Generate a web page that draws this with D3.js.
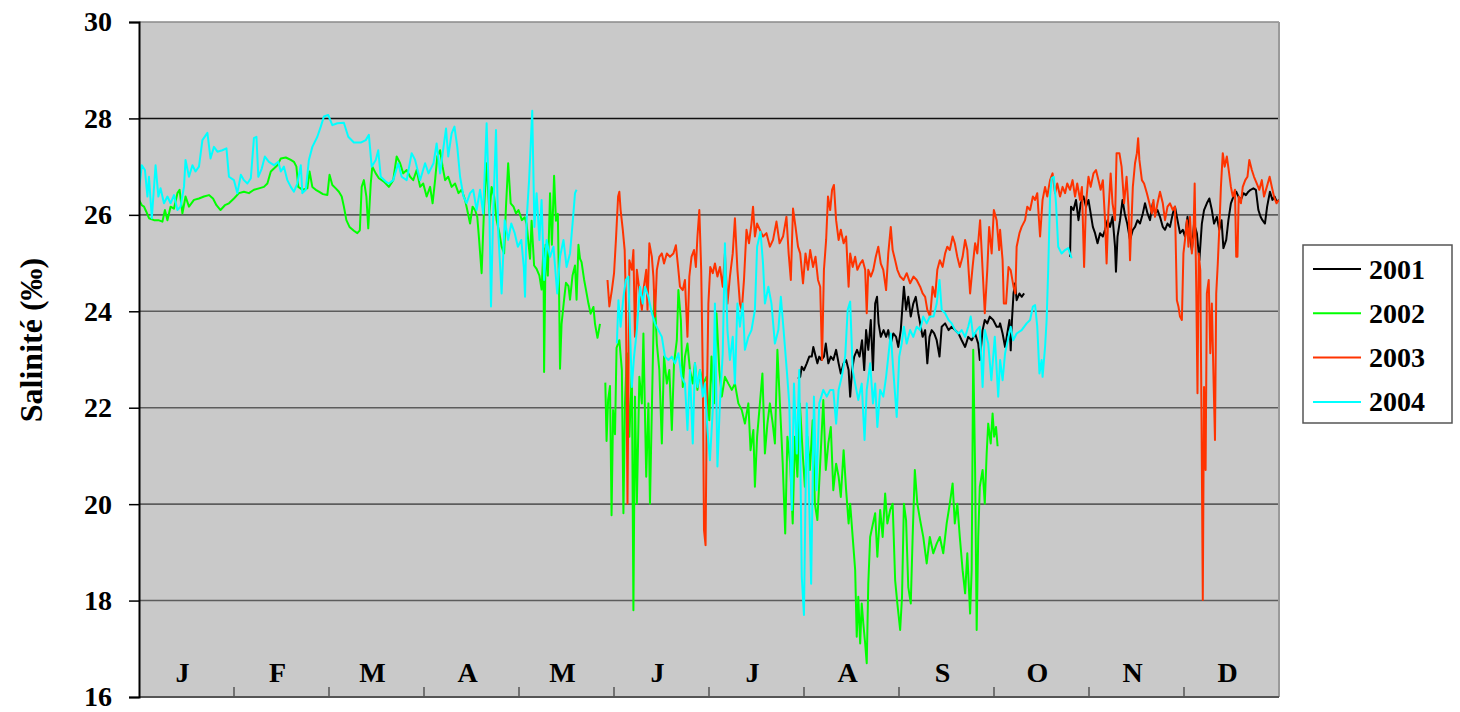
<!DOCTYPE html>
<html>
<head>
<meta charset="utf-8">
<script src="https://cdn.jsdelivr.net/npm/d3@7"></script>
<style>
  html, body { margin: 0; padding: 0; background: #ffffff; }
  svg { display: block; }
  text { font-family: "Liberation Serif", "Times New Roman", serif; font-weight: bold; fill: #000; }
</style>
</head>
<body>
<svg id="chart" width="1460" height="712"></svg>
<script>
// ---------- DATA (day of year, salinity ‰) ----------
const months = ["J", "F", "M", "A", "M", "J", "J", "A", "S", "O", "N", "D"];
const yTicks = [16, 18, 20, 22, 24, 26, 28, 30];
const years = ["2001", "2002", "2003", "2004"];
const colors = ["#000000", "#00FF00", "#FF3300", "#00FFFF"];

const s2001 = [[211.0,22.6],[211.7,22.64],[212.2,22.85],[212.9,22.78],[213.8,22.92],[214.6,23.06],[215.4,23.06],[215.9,23.26],[216.4,23.13],[217.2,22.92],[217.8,23.06],[218.5,22.99],[219.3,23.06],[219.9,23.33],[220.7,22.92],[221.5,23.06],[222.3,22.99],[223.2,23.2],[224.0,22.92],[224.7,22.71],[225.6,22.92],[226.4,22.99],[227.2,22.78],[227.7,22.23],[228.3,22.78],[229.0,23.06],[229.9,23.2],[230.7,23.06],[231.5,23.4],[232.2,22.78],[232.8,23.61],[233.5,23.2],[234.3,23.82],[235.0,22.78],[235.7,24.16],[236.3,24.3],[236.8,23.75],[237.5,23.47],[238.4,23.61],[239.2,23.47],[239.9,23.61],[240.7,23.33],[241.5,23.54],[242.4,23.47],[243.1,23.26],[243.9,23.61],[244.5,24.16],[244.9,24.51],[245.6,24.03],[246.3,24.3],[247.1,23.89],[247.9,24.16],[248.7,24.3],[249.5,23.96],[250.3,23.68],[250.9,23.47],[251.7,23.61],[252.4,22.92],[253.1,23.47],[253.8,23.61],[254.6,23.54],[255.4,23.4],[256.3,23.06],[257.0,23.68],[258.1,23.75],[259.2,23.61],[260.2,23.68],[261.3,23.61],[262.4,23.54],[263.4,23.4],[264.5,23.26],[265.5,23.47],[266.6,23.4],[267.7,23.54],[268.7,23.33],[269.2,22.99],[270.1,23.61],[270.8,23.82],[271.6,23.75],[272.4,23.89],[273.5,23.82],[274.6,23.68],[275.4,23.68],[275.7,23.75],[276.5,23.54],[277.3,23.26],[278.0,23.54],[278.7,23.82],[279.1,23.19],[279.5,23.82],[280.0,24.37],[280.5,24.58],[281.0,24.23],[281.9,24.37],[282.6,24.3],[283.4,24.37],[284.0,null],[298.1,25.13],[298.4,26.17],[299.2,26.1],[300.0,26.31],[300.8,25.89],[301.5,26.24],[302.4,26.38],[303.2,26.17],[304.0,26.31],[304.7,26.03],[305.4,25.75],[306.1,25.62],[306.9,25.41],[307.7,25.62],[308.6,25.55],[309.3,25.69],[310.1,25.89],[310.9,25.75],[311.7,25.96],[312.5,25.34],[312.8,24.82],[313.3,25.55],[314.1,25.89],[314.9,26.31],[315.6,26.03],[316.4,25.82],[317.3,25.48],[318.2,25.69],[318.9,25.75],[319.7,25.89],[320.5,25.82],[321.4,26.03],[322.1,26.24],[322.9,26.03],[323.7,25.89],[324.6,26.24],[325.3,26.03],[326.1,26.1],[326.9,25.96],[327.8,25.75],[328.5,25.69],[329.3,25.82],[330.1,25.75],[331.0,26.03],[331.7,26.17],[332.5,25.89],[333.3,25.62],[334.2,25.69],[334.9,25.55],[335.7,25.96],[336.3,25.62],[337.1,25.27],[337.8,25.82],[338.7,25.62],[339.5,25.06],[340.3,25.82],[341.0,26.1],[341.9,26.24],[342.7,26.34],[343.5,26.1],[344.2,25.82],[345.1,25.96],[345.9,25.69],[346.6,25.89],[347.2,25.31],[348.1,25.48],[348.8,25.89],[349.6,26.24],[350.4,26.38],[351.3,26.48],[352.0,26.38],[352.8,26.31],[353.6,26.45],[354.4,26.41],[355.2,26.48],[355.9,26.52],[356.8,26.55],[357.6,26.52],[358.4,26.1],[359.1,25.96],[359.7,25.89],[360.5,25.82],[361.2,26.17],[362.1,26.48],[362.9,26.31],[363.6,26.38],[364.3,26.27],[365.0,26.31]];

const s2002 = [[0,26.31],[0.9,26.2],[1.6,26.17],[2.3,26.07],[3.2,25.93],[4.8,25.89],[6.2,25.89],[7.5,25.86],[8.3,26.1],[9.1,25.89],[10.1,26.17],[11.2,26.13],[12.3,26.45],[13.0,26.52],[13.9,26.03],[14.9,26.38],[16.0,26.17],[17.6,26.31],[19.2,26.34],[20.8,26.38],[22.4,26.41],[23.7,26.34],[24.8,26.2],[26.1,26.1],[27.5,26.2],[28.8,26.24],[30.4,26.34],[32.0,26.45],[33.6,26.48],[35.2,26.45],[36.8,26.52],[38.4,26.55],[40.0,26.58],[41.1,26.65],[42.2,26.9],[43.2,26.96],[44.3,27.03],[45.4,27.17],[47.0,27.19],[48.6,27.14],[49.6,27.1],[50.4,27.0],[51.0,26.58],[52.3,26.52],[53.9,26.55],[54.6,26.9],[55.5,26.58],[56.6,26.52],[57.6,26.48],[58.9,26.43],[60.3,26.41],[61.0,26.83],[61.9,26.62],[63.0,26.55],[64.0,26.48],[64.9,26.38],[65.6,26.17],[66.4,25.89],[67.4,25.75],[68.8,25.67],[69.9,25.62],[70.7,25.68],[71.3,26.58],[72.0,26.72],[72.8,26.38],[73.4,25.72],[74.2,26.65],[74.7,27.0],[75.8,26.86],[76.8,26.76],[78.4,26.69],[80.0,26.58],[81.4,26.72],[82.5,27.21],[83.6,27.07],[84.6,26.86],[85.7,26.93],[86.8,26.79],[87.8,26.72],[88.9,26.93],[90.0,26.58],[91.0,26.65],[92.1,26.38],[93.2,26.58],[94.0,26.24],[94.8,26.72],[95.5,27.21],[96.4,27.34],[97.2,27.0],[98.0,26.72],[99.0,26.79],[100.1,26.58],[101.2,26.65],[102.3,26.45],[103.3,26.52],[104.4,26.31],[105.1,26.1],[106.0,25.82],[106.8,26.17],[107.6,26.1],[108.3,25.96],[108.9,25.48],[109.7,24.79],[110.5,26.17],[111.3,27.07],[112.2,26.03],[112.9,26.58],[113.7,26.38],[114.5,25.89],[115.4,25.62],[116.1,25.34],[116.9,25.2],[117.5,26.17],[118.2,27.07],[119.0,26.24],[119.9,26.17],[120.7,26.03],[121.5,26.1],[122.6,25.89],[123.5,25.95],[124.1,25.81],[125.2,25.09],[125.7,25.88],[126.5,24.95],[127.3,24.88],[128.2,24.74],[128.9,24.45],[129.5,25.31],[129.7,22.74],[130.2,25.38],[130.9,24.74],[131.6,26.45],[132.2,25.38],[132.9,26.81],[133.5,25.88],[134.1,26.02],[134.5,24.38],[134.8,22.81],[135.3,23.74],[136.1,24.24],[136.7,24.59],[137.5,24.52],[138.0,24.24],[138.8,24.74],[139.6,24.95],[140.1,24.24],[140.7,25.38],[141.2,25.09],[141.7,25.02],[142.5,24.66],[143.1,24.45],[143.9,24.16],[144.6,23.95],[145.5,24.09],[146.0,23.74],[146.8,23.45],[147.6,23.74],[148.5,null],[149.3,22.52],[149.7,21.31],[150.2,22.16],[150.8,22.45],[151.3,19.77],[151.8,21.95],[152.4,21.45],[152.9,23.24],[153.8,23.4],[154.6,22.78],[155.1,19.81],[155.6,22.09],[156.2,23.13],[157.0,21.4],[157.8,22.78],[158.3,17.8],[158.8,22.23],[159.4,20.01],[160.2,22.64],[161.0,22.09],[161.5,23.54],[162.4,20.57],[163.1,22.09],[163.6,20.01],[164.5,22.92],[165.0,24.44],[165.8,23.33],[166.6,22.78],[167.4,21.26],[168.1,23.06],[169.0,22.5],[169.8,22.78],[170.6,21.54],[171.3,22.92],[172.2,23.4],[172.7,24.44],[173.5,23.82],[174.1,22.43],[174.8,23.06],[175.6,23.33],[176.4,22.78],[177.3,22.5],[178.0,22.92],[178.8,22.37],[179.6,22.78],[180.6,22.5],[181.7,22.64],[182.6,21.74],[183.3,23.06],[184.1,22.09],[184.9,23.96],[185.8,22.78],[186.6,22.23],[187.6,22.64],[188.7,22.5],[189.8,22.37],[190.8,22.5],[191.9,22.09],[193.0,21.95],[194.0,21.67],[195.1,22.09],[195.8,21.12],[196.7,21.54],[197.2,20.36],[197.9,21.4],[198.8,22.09],[199.6,22.71],[200.4,21.05],[201.2,21.67],[202.0,22.09],[202.9,21.67],[203.6,21.26],[204.4,23.2],[205.2,22.09],[206.1,20.84],[206.9,19.39],[207.6,21.4],[208.5,20.84],[209.3,19.6],[210.0,21.4],[210.8,20.57],[211.6,22.09],[212.5,21.05],[213.2,20.36],[214.0,21.4],[214.8,20.71],[215.7,21.74],[216.4,20.01],[217.2,19.67],[218.0,20.71],[219.1,22.16],[219.9,20.71],[220.7,21.26],[221.5,21.6],[222.3,20.29],[223.2,20.84],[224.0,20.57],[224.7,20.15],[225.6,21.12],[226.4,20.29],[227.2,19.6],[227.7,20.01],[228.5,19.32],[229.3,18.63],[229.8,17.25],[230.3,18.08],[230.9,17.11],[231.4,17.94],[231.9,17.53],[232.5,17.11],[233.0,16.7],[233.5,18.35],[234.1,19.32],[235.0,19.6],[235.7,19.81],[236.4,18.91],[237.3,19.88],[238.1,19.32],[238.9,20.22],[239.6,19.6],[240.5,19.88],[241.3,20.01],[242.1,18.42],[242.8,17.94],[243.7,17.39],[244.3,18.08],[244.9,20.01],[245.6,19.67],[246.3,18.28],[247.1,17.94],[247.7,19.32],[248.4,20.71],[249.2,20.01],[250.1,19.67],[251.1,19.32],[252.2,18.77],[253.2,19.32],[254.3,18.98],[255.4,19.18],[256.4,19.32],[257.5,18.98],[258.6,19.6],[259.6,20.01],[260.5,20.43],[261.2,19.6],[262.0,20.01],[262.8,19.32],[263.7,18.63],[264.5,18.15],[265.2,18.98],[266.1,17.73],[266.6,18.63],[267.1,23.2],[267.7,20.71],[268.2,17.39],[268.7,19.32],[269.2,20.36],[270.1,20.71],[270.8,20.01],[271.4,21.05],[271.9,21.67],[272.7,21.26],[273.3,21.88],[273.8,21.4],[274.4,21.6],[274.9,21.2]];

const s2003 = [[150.0,24.65],[150.6,24.1],[151.4,24.44],[152.1,24.79],[152.7,25.48],[153.4,26.38],[153.8,26.48],[154.2,26.1],[154.9,25.69],[155.5,25.27],[155.9,24.16],[156.4,20.01],[157.0,25.06],[157.8,24.86],[158.3,25.27],[158.8,23.47],[159.4,24.86],[160.2,24.44],[161.0,24.03],[161.5,24.44],[162.4,24.86],[162.8,24.03],[163.4,25.41],[164.2,25.13],[164.7,24.72],[165.2,23.89],[165.8,24.86],[166.6,25.13],[167.4,25.2],[168.1,24.99],[169.0,25.2],[170.0,25.13],[171.1,25.2],[171.9,25.37],[172.6,24.92],[173.2,24.51],[174.1,24.44],[174.8,24.65],[175.6,23.47],[176.2,24.72],[176.9,25.13],[177.7,25.27],[178.3,24.92],[178.8,25.55],[179.4,26.1],[180.0,24.86],[180.5,22.78],[180.9,19.46],[181.4,19.15],[181.8,22.09],[182.3,24.16],[182.9,24.92],[183.7,24.79],[184.4,24.99],[185.2,24.72],[186.0,24.92],[186.9,24.51],[187.6,25.2],[188.4,24.16],[189.2,24.72],[190.1,25.2],[190.8,25.93],[191.6,24.86],[192.4,24.16],[193.0,24.03],[193.7,24.65],[194.5,25.69],[195.3,25.41],[196.1,25.82],[196.6,26.17],[197.2,25.55],[197.9,25.82],[198.8,25.69],[199.8,25.55],[200.9,25.62],[202.0,25.34],[203.0,25.48],[204.1,25.86],[205.1,25.41],[206.2,25.55],[207.3,25.96],[208.0,25.2],[208.7,24.65],[209.4,26.13],[210.2,25.75],[211.0,25.34],[211.7,25.2],[212.6,24.58],[213.4,25.2],[214.2,24.86],[214.9,25.27],[215.8,24.92],[216.6,25.13],[217.4,24.65],[218.1,24.51],[218.7,22.99],[219.3,24.86],[220.0,25.48],[220.6,26.38],[221.3,26.1],[221.9,26.52],[222.5,26.62],[223.2,25.89],[224.0,25.48],[224.7,25.69],[225.6,25.41],[226.4,25.55],[227.2,24.51],[227.7,25.2],[228.5,24.92],[229.3,25.13],[230.0,24.86],[230.9,24.99],[231.7,25.06],[232.5,24.86],[233.0,23.96],[233.5,24.86],[234.3,24.72],[235.1,24.86],[235.9,25.13],[236.7,25.34],[237.5,24.99],[238.3,24.86],[239.2,24.44],[239.9,25.2],[240.7,25.75],[241.3,25.27],[242.1,25.06],[242.8,24.86],[243.7,24.72],[244.8,24.65],[245.8,24.79],[246.9,24.58],[248.0,24.72],[249.0,24.65],[250.1,24.51],[250.9,24.37],[251.7,24.3],[252.4,24.03],[253.3,23.89],[254.1,24.51],[254.9,24.3],[255.6,24.86],[256.4,25.06],[257.3,24.92],[258.1,25.2],[258.8,25.34],[259.6,25.27],[260.5,25.55],[261.2,25.41],[262.0,25.13],[262.8,24.92],[263.7,25.13],[264.5,25.48],[265.2,25.27],[266.1,24.37],[266.9,24.92],[267.7,25.41],[268.4,25.2],[269.3,25.89],[270.1,24.86],[270.8,23.96],[271.6,24.86],[272.2,25.75],[273.0,25.2],[273.7,26.1],[274.6,25.89],[275.4,25.27],[275.7,25.69],[276.5,25.06],[276.9,24.16],[277.6,24.16],[278.4,24.92],[279.1,24.85],[280.0,24.51],[280.6,24.37],[281.0,25.34],[281.9,25.62],[282.6,25.75],[283.7,25.89],[284.4,26.17],[285.3,26.1],[286.2,26.38],[286.9,26.31],[287.6,26.45],[288.5,25.55],[289.3,26.31],[290.1,26.58],[290.8,26.38],[291.7,26.72],[292.5,26.86],[293.3,26.45],[294.0,26.65],[294.9,26.38],[295.7,26.58],[296.5,26.45],[297.2,26.65],[298.1,26.52],[298.9,26.72],[299.7,26.38],[300.4,26.65],[301.3,26.31],[301.9,26.58],[302.6,24.92],[303.2,26.24],[304.0,26.79],[304.7,26.58],[305.6,26.86],[306.4,26.93],[307.2,26.72],[307.9,26.52],[308.6,26.72],[309.3,25.89],[309.8,24.99],[310.4,26.1],[311.1,26.86],[311.7,26.24],[312.5,25.89],[313.0,27.28],[313.9,27.28],[314.6,27.0],[315.4,26.24],[316.2,26.79],[316.8,26.17],[317.3,25.06],[318.2,26.58],[318.9,27.07],[319.5,27.28],[319.9,27.59],[320.3,27.14],[321.1,26.72],[321.8,26.65],[322.7,26.45],[323.5,26.24],[324.3,26.03],[324.8,26.31],[325.3,25.96],[326.1,26.24],[326.9,26.48],[327.8,26.24],[328.5,25.89],[329.3,26.17],[330.1,26.24],[331.0,26.1],[331.7,26.17],[332.3,24.23],[332.8,24.1],[333.3,23.89],[333.9,23.82],[334.4,25.2],[334.9,25.48],[335.5,25.89],[336.0,25.34],[336.5,25.96],[337.1,25.2],[337.6,25.55],[338.0,26.65],[338.5,24.51],[338.9,22.3],[339.3,25.2],[339.8,24.85],[340.2,21.74],[340.6,18.01],[341.0,22.43],[341.5,20.71],[341.9,24.37],[342.5,24.65],[343.0,23.13],[343.5,24.16],[344.1,22.43],[344.5,21.33],[344.9,24.37],[345.4,24.99],[346.0,25.89],[346.4,26.58],[347.0,27.28],[347.6,27.0],[348.3,27.21],[348.9,26.93],[349.6,26.58],[350.2,26.38],[350.9,26.52],[351.3,25.13],[351.7,25.13],[352.1,26.38],[352.8,26.24],[353.4,26.58],[354.2,26.72],[354.9,26.79],[355.5,27.14],[356.3,26.93],[357.0,26.79],[357.9,26.65],[358.7,26.52],[359.5,26.72],[360.2,26.38],[361.1,26.58],[362.0,26.79],[362.7,26.58],[363.4,26.38],[364.2,26.24],[365.0,26.31]];

const s2004 = [[0,26.52],[0.9,27.03],[1.9,26.93],[2.7,26.38],[3.2,26.79],[4.1,25.93],[5.3,27.03],[6.2,26.38],[6.9,26.55],[8.0,26.24],[9.1,26.38],[10.1,26.24],[11.2,26.41],[12.3,26.1],[13.3,26.17],[14.4,26.58],[14.9,27.14],[16.0,26.79],[17.1,27.03],[18.1,26.9],[19.2,27.0],[20.3,27.55],[21.9,27.7],[22.9,27.17],[24.0,27.41],[25.1,27.31],[26.7,27.34],[28.0,27.38],[28.8,26.79],[30.4,26.72],[31.5,26.45],[32.6,26.83],[33.6,26.72],[34.7,26.65],[35.8,26.76],[36.8,27.59],[37.6,27.62],[38.2,26.79],[39.3,26.96],[40.3,27.21],[41.6,27.1],[43.2,27.03],[44.6,27.1],[45.4,26.9],[46.4,27.0],[47.5,26.72],[48.6,26.58],[49.6,26.48],[50.7,26.65],[51.8,27.03],[52.3,26.45],[53.4,26.52],[54.4,27.14],[55.5,27.41],[57.1,27.62],[58.2,27.83],[59.2,28.04],[60.6,28.07],[61.9,27.86],[63.5,27.9],[65.6,27.91],[67.0,27.62],[68.8,27.5],[71.0,27.5],[72.6,27.55],[73.6,27.66],[74.5,27.0],[75.8,27.14],[76.6,27.34],[77.4,26.79],[79.0,26.69],[80.0,26.65],[81.4,26.72],[83.0,27.07],[84.1,26.79],[85.7,26.72],[87.3,27.28],[88.4,27.14],[90.0,26.72],[91.6,27.07],[92.7,26.86],[94.3,27.07],[95.3,27.48],[96.4,26.86],[97.5,27.41],[98.3,27.79],[99.0,27.21],[100.1,27.69],[101.0,27.83],[101.9,27.41],[102.8,26.79],[103.9,26.38],[104.9,26.24],[106.0,26.45],[107.0,26.52],[108.1,26.1],[109.2,26.52],[110.2,26.03],[111.3,27.9],[112.2,26.03],[112.7,24.1],[113.4,26.03],[114.3,27.76],[115.0,25.68],[116.1,24.37],[117.1,25.89],[118.2,25.48],[119.2,25.82],[120.3,25.62],[121.3,25.34],[122.4,25.48],[123.2,24.92],[123.6,24.3],[124.1,25.89],[124.9,26.72],[125.9,28.16],[126.6,25.75],[127.3,26.45],[128.2,25.48],[128.9,26.31],[129.7,24.65],[130.5,25.48],[131.6,25.13],[132.7,25.34],[133.9,24.37],[134.8,25.13],[135.9,25.48],[136.9,24.92],[138.0,25.2],[139.0,25.96],[139.6,26.45],[140.1,26.52],[140.5,null],[153.0,23.33],[153.5,24.23],[154.2,23.68],[155.1,24.3],[155.9,24.65],[156.7,24.72],[157.2,23.61],[157.8,22.43],[158.5,23.06],[159.4,23.61],[160.4,24.51],[161.3,24.16],[162.0,24.51],[163.1,24.3],[164.2,23.96],[165.2,23.75],[166.3,23.61],[167.4,23.47],[168.4,23.06],[169.5,22.99],[170.6,23.06],[171.6,22.92],[172.7,23.13],[173.7,22.64],[174.8,22.5],[175.6,21.54],[176.4,22.78],[177.3,21.26],[178.0,22.92],[178.8,22.43],[179.6,22.78],[180.5,22.23],[181.2,22.5],[182.0,21.54],[182.8,20.91],[183.7,21.95],[184.4,24.16],[185.2,20.78],[186.0,22.09],[186.9,23.13],[187.6,25.41],[188.4,23.61],[189.2,22.99],[190.1,23.47],[190.8,22.5],[191.6,24.16],[192.4,23.68],[193.3,24.16],[194.0,23.2],[195.1,23.47],[196.1,23.61],[197.2,24.03],[197.9,25.34],[199.0,25.65],[199.8,24.99],[200.4,24.16],[201.5,24.51],[202.5,24.16],[203.6,23.33],[204.7,23.61],[205.5,24.3],[206.3,23.68],[207.4,22.78],[208.2,22.09],[209.0,19.88],[209.7,22.5],[210.6,21.05],[211.4,22.78],[212.2,18.49],[212.9,17.7],[213.8,22.09],[214.6,20.01],[215.2,18.35],[216.1,22.23],[216.9,20.29],[217.8,22.09],[219.1,22.37],[220.2,22.23],[221.3,22.37],[222.3,22.37],[223.2,21.67],[224.0,22.37],[225.0,22.64],[226.1,23.06],[226.9,24.03],[227.7,24.2],[228.5,22.78],[229.3,22.5],[230.3,22.16],[231.4,22.5],[232.3,21.33],[233.0,22.37],[234.1,22.92],[235.0,22.09],[235.7,22.5],[236.4,21.6],[237.3,22.37],[238.3,22.23],[239.2,22.64],[239.9,23.06],[240.7,23.54],[241.5,22.78],[242.6,21.81],[243.4,23.06],[244.2,23.33],[244.9,23.68],[245.8,23.33],[246.9,23.61],[247.9,23.47],[249.0,23.68],[250.1,23.61],[251.1,23.89],[252.2,23.75],[253.2,23.89],[254.4,23.89],[255.4,24.16],[256.3,24.65],[257.0,24.03],[258.1,23.96],[259.2,23.82],[260.2,23.75],[261.3,23.61],[262.4,23.54],[263.4,23.61],[264.5,23.47],[265.5,23.68],[266.3,23.89],[267.1,23.47],[268.2,23.61],[269.2,23.68],[270.1,22.43],[270.8,23.61],[271.9,23.33],[272.9,22.57],[274.0,23.47],[275.1,22.23],[275.7,22.99],[276.5,22.57],[277.3,23.13],[278.4,23.47],[279.1,23.68],[279.9,23.4],[281.0,23.54],[282.6,23.61],[284.2,23.75],[285.3,23.82],[286.2,24.1],[286.9,24.13],[287.6,23.68],[288.3,22.71],[289.0,22.99],[289.3,22.64],[290.1,23.26],[290.6,23.82],[291.1,24.85],[291.7,26.38],[292.2,26.76],[292.9,26.79],[293.6,26.24],[294.3,25.34],[295.4,25.2],[296.5,25.27],[297.5,25.31],[298.6,25.1]];

const seriesData = [s2001, s2002, s2003, s2004];

// ---------- LAYOUT ----------
const svg = d3.select("#chart");
const plot = { left: 139, right: 1279, top: 22, bottom: 697 };
const daysInYear = 365;

const x = d3.scaleLinear().domain([0, daysInYear]).range([plot.left, plot.right]);
const y = d3.scaleLinear().domain([16, 30]).range([plot.bottom, plot.top]);
const monthBand = d3.scaleBand().domain(d3.range(12)).range([plot.left, plot.right]);

// plot background
svg.append("rect")
  .attr("x", plot.left).attr("y", plot.top)
  .attr("width", plot.right - plot.left).attr("height", plot.bottom - plot.top)
  .attr("fill", "#C9C9C9");

// horizontal grid lines
svg.append("g").selectAll("line")
  .data(yTicks.filter(v => v > 16 && v < 30))
  .join("line")
  .attr("x1", plot.left).attr("x2", plot.right)
  .attr("y1", d => y(d)).attr("y2", d => y(d))
  .attr("stroke", d => d === 28 ? "#111" : "#5c5c5c")
  .attr("stroke-width", 1.6);

// top and right borders
svg.append("line").attr("x1", plot.left).attr("x2", plot.right)
  .attr("y1", y(30)).attr("y2", y(30)).attr("stroke", "#8a8a8a").attr("stroke-width", 1.4);
svg.append("line").attr("x1", plot.right).attr("x2", plot.right)
  .attr("y1", plot.top).attr("y2", plot.bottom).attr("stroke", "#9a9a9a").attr("stroke-width", 2);

// series lines
const line = d3.line()
  .defined(d => d[1] !== null)
  .x(d => x(d[0]))
  .y(d => y(d[1]));

svg.append("clipPath").attr("id", "clip")
  .append("rect").attr("x", plot.left).attr("y", plot.top)
  .attr("width", plot.right - plot.left).attr("height", plot.bottom - plot.top);

svg.append("g").attr("clip-path", "url(#clip)")
  .selectAll("path")
  .data(seriesData)
  .join("path")
  .attr("d", line)
  .attr("fill", "none")
  .attr("stroke", (d, i) => colors[i])
  .attr("stroke-width", 2)
  .attr("stroke-linejoin", "round");

// bottom axis line + month ticks (pointing up into plot)
svg.append("line").attr("x1", plot.left).attr("x2", plot.right)
  .attr("y1", plot.bottom).attr("y2", plot.bottom)
  .attr("stroke", "#555").attr("stroke-width", 2);
svg.append("g").selectAll("line")
  .data(d3.range(1, 12))
  .join("line")
  .attr("x1", d => monthBand(d)).attr("x2", d => monthBand(d))
  .attr("y1", plot.bottom).attr("y2", plot.bottom - 10)
  .attr("stroke", "#555").attr("stroke-width", 1.5);

// month labels
svg.append("g").selectAll("text")
  .data(months)
  .join("text")
  .attr("x", (d, i) => monthBand(i) + monthBand.bandwidth() / 2 - 4)
  .attr("y", 682)
  .attr("text-anchor", "middle")
  .style("font-size", "28px")
  .text(d => d);

// left axis
const yAxis = d3.axisLeft(y).tickValues(yTicks).tickSize(10).tickPadding(17).tickFormat(d3.format("d"));
const gy = svg.append("g").attr("transform", `translate(${plot.left},0)`).call(yAxis);
gy.select(".domain").attr("stroke", "#000").attr("stroke-width", 2);
gy.selectAll(".tick line").attr("stroke", "#000").attr("stroke-width", 1.5);
gy.selectAll(".tick text")
  .style("font-family", '"Liberation Serif", "Times New Roman", serif')
  .style("font-weight", "bold")
  .style("font-size", "28px")
  .attr("fill", "#000");

// y-axis title
svg.append("text")
  .attr("transform", "translate(42,340) rotate(-90)")
  .attr("text-anchor", "middle")
  .style("font-size", "32px")
  .text("Salinité (‰)");

// legend
const legend = svg.append("g");
legend.append("rect")
  .attr("x", 1303).attr("y", 245).attr("width", 149).attr("height", 178)
  .attr("fill", "#fff").attr("stroke", "#555").attr("stroke-width", 1.5);
const items = legend.selectAll("g.item")
  .data(years)
  .join("g")
  .attr("class", "item")
  .attr("transform", (d, i) => `translate(0,${269 + i * 44.3})`);
items.append("line")
  .attr("x1", 1313).attr("x2", 1361).attr("y1", 0).attr("y2", 0)
  .attr("stroke", (d, i) => colors[i]).attr("stroke-width", 2);
items.append("text")
  .attr("x", 1369).attr("y", 0).attr("dy", "0.34em")
  .style("font-size", "28px")
  .text(d => d);
</script>
</body>
</html>
